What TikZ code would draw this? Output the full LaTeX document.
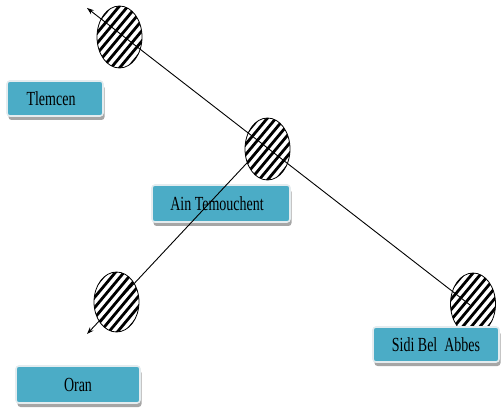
\documentclass[tikz,border=0pt]{standalone}
\usepackage{fontspec}
\setmainfont{Liberation Serif}
\usetikzlibrary{shadows,arrows.meta,shapes.geometric}
\definecolor{boxteal}{HTML}{4BACC6}
\definecolor{rimgray}{HTML}{E4ECEF}
\tikzset{
  citybox/.style={rectangle, rounded corners=3pt, fill=boxteal, draw=rimgray, line width=1.6pt,
    inner sep=0pt, minimum width=#1, minimum height=36pt,
    drop shadow={shadow xshift=1.5pt, shadow yshift=-4pt, fill=black!35, opacity=1},
    font=\fontsize{20}{22}\selectfont, text=black},
  hatchell/.style={ellipse, draw=black, line width=0.8pt, minimum width=45pt, minimum height=62pt, inner sep=0pt,
    path picture={
      \foreach \k in {-7,...,7}{
        \draw[line width=2.8pt, shift={(path picture bounding box.center)}]
          ({\k*8.6-30},-36) -- ({\k*8.6+30},36);
      }
    }},
  conn/.style={line width=0.9pt, -{Stealth[length=7pt,width=5pt]}},
  plain/.style={line width=0.9pt}
}
\newcommand{\cname}[1]{\scalebox{0.7}[1]{#1}}
\begin{document}
\begin{tikzpicture}[x=1pt,y=1pt]
\useasboundingbox (0,0) rectangle (502,409);
% hatched ellipses
\node[hatchell] (e1) at (119.5,372) {};
\node[hatchell] (e2) at (267.5,260) {};
\node[hatchell, minimum height=60pt] (e3) at (116.5,107) {};
\node[hatchell] (e4) at (473,105) {};
% boxes
\node[citybox=96pt, minimum height=35pt] (tl) at (55,310.5) {\cname{Tlemcen}\hspace*{8pt}};
\node[citybox=138pt, minimum height=37pt] (ai) at (221,205.5) {\cname{Ain Temouchent}\hspace*{8pt}};
\node[citybox=126pt, minimum height=35pt] (sb) at (436,64.5) {\cname{Sidi Bel\ \ Abbes}};
\node[citybox=124pt, minimum height=37pt] (or) at (78,24.5) {\cname{Oran}};
% connectors
\coordinate (t1) at (87,401);
\coordinate (t2) at (87,75);
\coordinate (s2) at (260,260);
\coordinate (s1) at (470,104);
\draw[conn] (s1) -- (t1);
\draw[conn] (s2) -- (t2);
\end{tikzpicture}
\end{document}
